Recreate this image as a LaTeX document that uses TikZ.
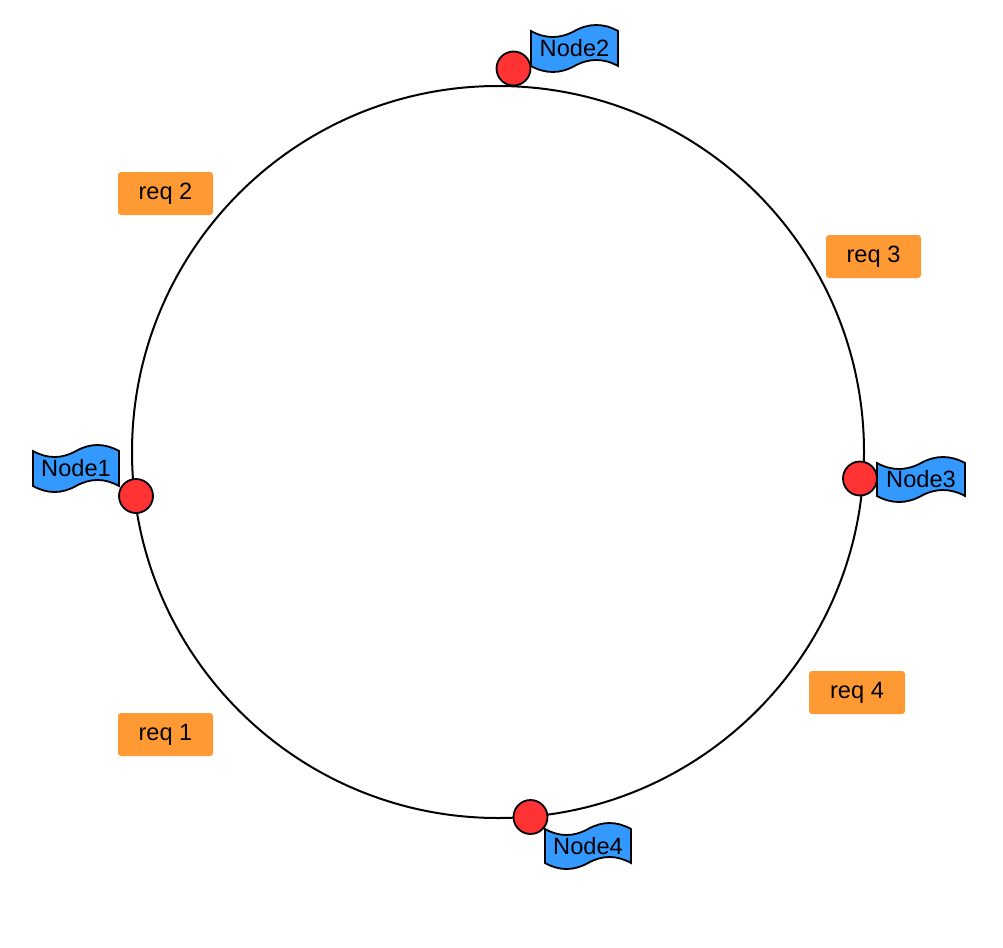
\documentclass[tikz,border=0pt]{standalone}
\usepackage{fontspec}
\setmainfont{Liberation Sans}
\definecolor{reqorange}{HTML}{FF9933}
\definecolor{flagblue}{HTML}{3399FF}
\definecolor{dotred}{HTML}{FF3333}
\tikzset{
  ring/.style={draw=black, line width=2pt},
  reqbox/.style={fill=reqorange, rounded corners=3pt, inner sep=0pt, font=\fontsize{23.6}{28}\selectfont},
  flagshape/.style={draw=black, fill=flagblue, line width=1.8pt},
  flaglabel/.style={inner sep=0pt, font=\fontsize{23.6}{28}\selectfont},
  hostdot/.style={circle, draw=black, fill=dotred, line width=1.8pt, minimum size=34pt, inner sep=0pt},
}
\begin{document}
\begin{tikzpicture}[x=1pt, y=-1pt]
\useasboundingbox (0,0) rectangle (1003,947);
\fill[white] (0,0) rectangle (1003,947);
% ring
\node[circle, minimum size=732pt, inner sep=0pt, ring] (ring) at (498,452) {};
% request boxes
\node[reqbox, minimum width=95pt, minimum height=43pt] (req2) at (165.5,193.5) {req 2};
\node[reqbox, minimum width=95pt, minimum height=43pt] (req3) at (873.5,256.5) {req 3};
\node[reqbox, minimum width=96pt, minimum height=43pt] (req4) at (857,692.5) {req 4};
\node[reqbox, minimum width=95pt, minimum height=43pt] (req1) at (165.5,734.5) {req 1};
% flags (tape shapes)
\foreach \xa/\ya/\xb/\yb/\nm/\tx in {531/25/618/72/node2/Node2, 33/445/119/492/node1/Node1, 877/457/965/502/node3/Node3, 545/823/631/869/node4/Node4}{
  \pgfmathsetmacro{\A}{6}
  \pgfmathsetmacro{\W}{\xb-\xa}
  \draw[flagshape]
    (\xa,\ya+\A)
    .. controls (\xa+\W/6, \ya+\A+4*\A/3) and (\xa+\W/3, \ya+\A+4*\A/3) .. (\xa+\W/2, \ya+\A)
    .. controls (\xa+2*\W/3, \ya+\A-4*\A/3) and (\xa+5*\W/6, \ya+\A-4*\A/3) .. (\xb, \ya+\A)
    -- (\xb, \yb-\A)
    .. controls (\xa+5*\W/6, \yb-\A-4*\A/3) and (\xa+2*\W/3, \yb-\A-4*\A/3) .. (\xa+\W/2, \yb-\A)
    .. controls (\xa+\W/3, \yb-\A+4*\A/3) and (\xa+\W/6, \yb-\A+4*\A/3) .. (\xa, \yb-\A)
    -- cycle;
  \node[flaglabel] (\nm) at ({(\xa+\xb)/2}, {(\ya+\yb)/2}) {\tx};
}
% host dots
\node[hostdot] (dot2) at (513.5,68.5) {};
\node[hostdot] (dot1) at (136,496) {};
\node[hostdot] (dot3) at (860,478.5) {};
\node[hostdot] (dot4) at (530.5,817) {};
\end{tikzpicture}
\end{document}
